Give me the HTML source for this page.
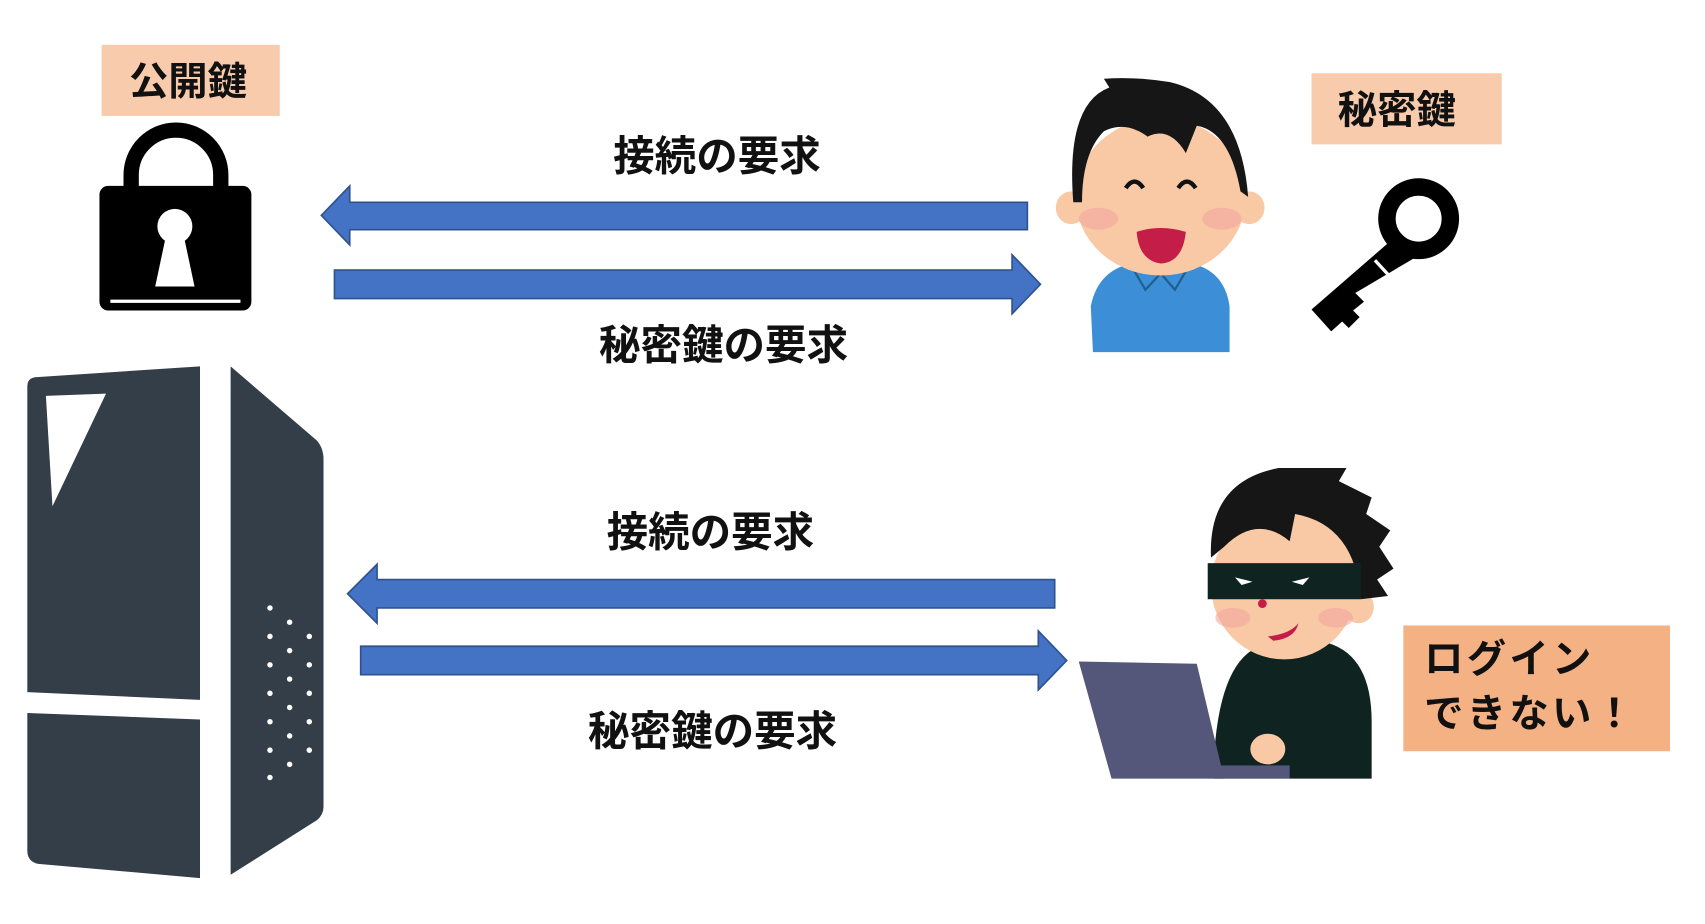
<!DOCTYPE html>
<html><head><meta charset="utf-8"><style>
html,body{margin:0;padding:0;background:#fff;width:1705px;height:924px;overflow:hidden}
svg{display:block}
text{font-family:"Liberation Sans","Noto Sans CJK JP",sans-serif;font-weight:bold;fill:#111}
</style></head><body>
<svg width="1705" height="924" viewBox="0 0 1560 845" preserveAspectRatio="none" xmlns="http://www.w3.org/2000/svg">
<rect x="93" y="41" width="163" height="65" fill="#f8cbad"/>
<text x="172" y="87" font-size="36" text-anchor="middle">公開鍵</text>
<rect x="1200" y="67" width="174" height="65" fill="#f8cbad"/>
<text x="1278" y="113" font-size="36" text-anchor="middle">秘密鍵</text>
<rect x="1284" y="572" width="244" height="115" fill="#f4b183"/>
<text x="1303" y="615" font-size="36" letter-spacing="3">ログイン</text>
<text x="1303" y="665" font-size="36" letter-spacing="3">できない！</text>

<g fill="#4472c4" stroke="#2f528f" stroke-width="1.5">
<polygon points="294,197 320,170 320,185 940,185 940,210 320,210 320,224"/>
<polygon points="952,260 926,233 926,247 306,247 306,273 926,273 926,287"/>
<polygon points="318,543 345,516 345,530 965,530 965,556 345,556 345,570"/>
<polygon points="976,604 950,577 950,591 330,591 330,617 950,617 950,631"/>
</g>
<text x="656" y="156" font-size="38" text-anchor="middle">接続の要求</text>
<text x="662" y="329" font-size="38" text-anchor="middle">秘密鍵の要求</text>
<text x="650" y="500" font-size="38" text-anchor="middle">接続の要求</text>
<text x="652" y="682" font-size="38" text-anchor="middle">秘密鍵の要求</text>

<path d="M120,172 L120,160 A41,41 0 0 1 202,160 L202,172" fill="none" stroke="#000" stroke-width="14"/>
<rect x="91" y="170" width="139" height="114" rx="8" fill="#000"/>
<circle cx="160" cy="207" r="16" fill="#fff"/>
<polygon points="152,215 168,215 178,262 142,262" fill="#fff"/>
<rect x="101" y="274" width="119" height="3" fill="#fff"/>

<g fill="#333e48">
<path d="M32,345 L183,335 L183,640 L25,633 L25,353 Q25,346 32,345Z"/>
<path d="M25,652 L183,658 L183,803 L35,790 Q25,788 25,778Z"/>
<path d="M211,335 L290,403 Q296,410 296,420 L296,738 Q296,745 290,750 L211,800Z"/>
</g>
<polygon points="42,362 97,360 48,463" fill="#fff"/>
<g fill="#fff">
<circle cx="247" cy="556" r="2.5"/><circle cx="265" cy="569" r="2.5"/><circle cx="283" cy="582" r="2.5"/>
<circle cx="247" cy="582" r="2.5"/><circle cx="265" cy="595" r="2.5"/><circle cx="283" cy="608" r="2.5"/>
<circle cx="247" cy="608" r="2.5"/><circle cx="265" cy="621" r="2.5"/><circle cx="283" cy="634" r="2.5"/>
<circle cx="247" cy="634" r="2.5"/><circle cx="265" cy="647" r="2.5"/><circle cx="283" cy="660" r="2.5"/>
<circle cx="247" cy="660" r="2.5"/><circle cx="265" cy="673" r="2.5"/><circle cx="283" cy="686" r="2.5"/>
<circle cx="247" cy="686" r="2.5"/><circle cx="265" cy="699" r="2.5"/>
<circle cx="247" cy="711" r="2.5"/>
</g>

<path d="M1000,322 L998,280 Q1005,245 1040,240 L1085,240 Q1120,245 1125,280 L1125,322Z" fill="#3c8fd6"/>
<path d="M1035,243 L1048,265 L1062,250 L1075,265 L1088,243" fill="none" stroke="#1d5f8f" stroke-width="2"/>
<ellipse cx="980" cy="190" rx="14" ry="15" fill="#f8c9a4"/>
<ellipse cx="1143" cy="190" rx="14" ry="15" fill="#f8c9a4"/>
<ellipse cx="1062" cy="180" rx="78" ry="72" fill="#f8c9a4"/>
<path d="M982,185 Q975,95 1015,80 L1010,72 Q1040,70 1070,75 Q1135,90 1142,180 L1135,175 Q1125,120 1095,115 L1085,140 Q1070,115 1050,125 Q1030,110 1010,120 Q990,140 990,185Z" fill="#161616"/>
<path d="M1030,172 Q1038,160 1046,172 M1078,172 Q1086,160 1094,172" fill="none" stroke="#111" stroke-width="4"/>
<ellipse cx="1005" cy="200" rx="18" ry="10" fill="#f4a6a0" opacity=".6"/>
<ellipse cx="1118" cy="200" rx="18" ry="10" fill="#f4a6a0" opacity=".6"/>
<path d="M1040,212 Q1062,205 1085,212 Q1082,240 1062,241 Q1042,238 1040,212Z" fill="#c41e48"/>

<circle cx="1298" cy="200" r="29" fill="none" stroke="#000" stroke-width="16"/>
<path d="M1275,218 L1200,283 L1218,303 L1228,294 L1234,300 L1244,290 L1238,284 L1248,276 L1240,268 L1294,236Z" fill="#000"/>
<line x1="1258" y1="238" x2="1270" y2="251" stroke="#fff" stroke-width="3"/>

<path d="M1110,712 Q1112,610 1150,592 L1215,588 Q1255,600 1255,660 L1255,712Z" fill="#0f2420"/>
<ellipse cx="1243" cy="555" rx="14" ry="15" fill="#f8c9a4"/>
<ellipse cx="1175" cy="535" rx="67" ry="68" fill="#f8c9a4"/>
<path d="M1108,510 Q1105,440 1170,428 L1232,428 L1225,440 L1255,455 L1250,470 L1272,485 L1262,500 L1275,520 L1260,530 L1270,545 L1245,548 Q1240,480 1185,470 L1180,495 Q1150,470 1120,500Z" fill="#161616"/>
<rect x="1105" y="515" width="140" height="33" fill="#0f2420"/>
<path d="M1130,528 L1146,532 L1136,535Z M1198,528 L1182,532 L1192,535Z" fill="#fff"/>
<ellipse cx="1128" cy="565" rx="16" ry="9" fill="#f4a6a0" opacity=".6"/>
<ellipse cx="1222" cy="565" rx="16" ry="9" fill="#f4a6a0" opacity=".6"/>
<path d="M1160,582 Q1180,580 1188,570 Q1185,584 1165,586Z" fill="#c41e48"/>
<circle cx="1155" cy="552" r="4" fill="#c41e48"/>
<polygon points="987,605 1095,607 1120,712 1017,712" fill="#55577a"/>
<rect x="1105" y="700" width="75" height="12" fill="#55577a"/>
<ellipse cx="1160" cy="685" rx="16" ry="14" fill="#f8c9a4"/>
</svg>
</body></html>
